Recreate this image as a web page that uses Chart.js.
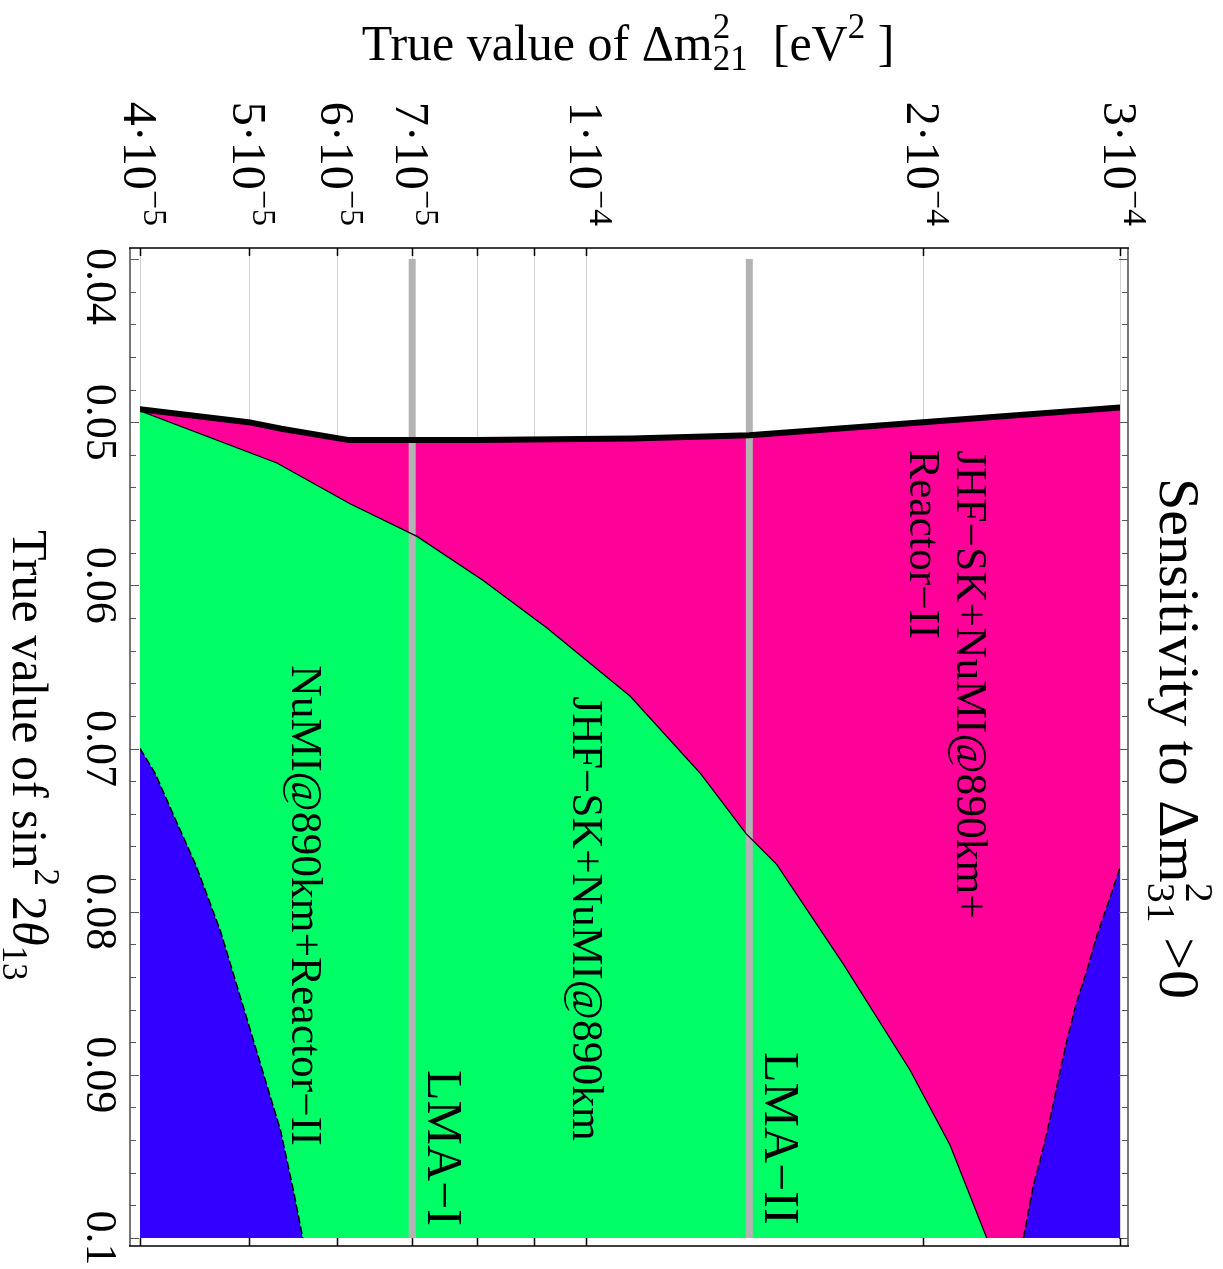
<!DOCTYPE html>
<html>
<head>
<meta charset="utf-8">
<script src="https://cdn.jsdelivr.net/npm/chart.js@4.4.1/dist/chart.umd.min.js"></script>
<style>
  html, body { margin: 0; padding: 0; background: #fff; }
  canvas { display: block; }
</style>
</head>
<body>
<canvas id="sensitivity-chart" width="1223" height="1269"></canvas>
<script>
// Axis ticks
var dm21Ticks = [4e-5, 5e-5, 6e-5, 7e-5, 1e-4, 2e-4, 3e-4];
var dm21TickMantissa = ['4', '5', '6', '7', '1', '2', '3'];
var dm21TickExponent = ['\u22125', '\u22125', '\u22125', '\u22125', '\u22124', '\u22124', '\u22124'];
var dm21Grid = [4e-5, 5e-5, 6e-5, 7e-5, 8e-5, 9e-5, 1e-4, 2e-4, 3e-4];
var s13Ticks = [0.04, 0.05, 0.06, 0.07, 0.08, 0.09, 0.1];
var s13TickLabels = ['0.04', '0.05', '0.06', '0.07', '0.08', '0.09', '0.1'];

// Upper edge of the sensitive region (thick black line)
var dm21Black = [4.0e-5, 5.0e-5, 5.35e-5, 6.15e-5, 8.0e-5, 1.1e-4, 1.4e-4, 2.0e-4, 3.0e-4];
var s13Black = [0.0492, 0.0500, 0.0504, 0.0511, 0.0511, 0.0510, 0.0508, 0.0500, 0.0491];

// JHF-SK+NuMI@890km boundary (green / magenta)
var dm21Green = [4.0e-5, 5.3e-5, 6.16e-5, 7.07e-5, 8.1e-5, 9.23e-5, 1.096e-4, 1.265e-4, 1.39e-4, 1.481e-4, 1.698e-4, 1.948e-4, 2.115e-4, 2.281e-4];
var s13Green = [0.0493, 0.0525, 0.0550, 0.0570, 0.0597, 0.0626, 0.0668, 0.0715, 0.0752, 0.0771, 0.0832, 0.0897, 0.0943, 0.1000];

// NuMI@890km+Reactor-II boundaries (blue)
var dm21BlueLeft = [4.0e-5, 4.125e-5, 4.28e-5, 4.49e-5, 4.72e-5, 4.96e-5, 5.19e-5, 5.34e-5, 5.48e-5, 5.59e-5];
var s13BlueLeft = [0.0700, 0.0715, 0.0740, 0.0772, 0.0812, 0.0861, 0.0906, 0.0934, 0.0970, 0.1000];
var dm21BlueRight = [2.46e-4, 2.51e-4, 2.56e-4, 2.61e-4, 2.65e-4, 2.69e-4, 2.74e-4, 2.80e-4, 2.86e-4, 2.93e-4, 3.0e-4];
var s13BlueRight = [0.1000, 0.0968, 0.0946, 0.0921, 0.0899, 0.0879, 0.0857, 0.0837, 0.0815, 0.0794, 0.0773];

// LMA solutions
var lmaDm21 = [7.0e-5, 1.4e-4];
var lmaLabels = ['LMA\u2212I', 'LMA\u2212II'];

// Region labels
var regionLabels = ['JHF\u2212SK+NuMI@890km+', 'Reactor\u2212II', 'JHF\u2212SK+NuMI@890km', 'NuMI@890km+Reactor\u2212II'];

(function() {
    'use strict';

    var SERIF = '"Liberation Serif", "Times New Roman", serif';

    // anchors of the rotated labels, in data units (baseline, start of text)
    var regionAnchors = [[2.146e-4, 0.0517], [1.948e-4, 0.0517], [9.74e-5, 0.0668], [5.47e-5, 0.0649]];
    var lmaLabelStart = [0.0897, 0.0886];

    function toPoints(xs, ys) {
        return xs.map(function(x, i) { return {x: x, y: ys[i]}; });
    }

    // rich text: pieces {t, s, up, stack, it}
    function richWidth(ctx, parts) {
        var w = 0;
        parts.forEach(function(p) {
            ctx.font = (p.it ? 'italic ' : '') + p.s + 'px ' + SERIF;
            if (!p.stack) w += ctx.measureText(p.t).width;
        });
        return w;
    }

    function drawRich(ctx, parts, x, y, rotated, align) {
        ctx.save();
        ctx.translate(x, y);
        if (rotated) ctx.rotate(Math.PI / 2);
        ctx.textAlign = 'left';
        ctx.textBaseline = 'alphabetic';
        ctx.fillStyle = '#000';
        var total = richWidth(ctx, parts);
        var pen = align === 'center' ? -total / 2 : (align === 'right' ? -total : 0);
        parts.forEach(function(p) {
            ctx.font = (p.it ? 'italic ' : '') + p.s + 'px ' + SERIF;
            ctx.fillText(p.t, pen, -(p.up || 0));
            if (!p.stack) pen += ctx.measureText(p.t).width;
        });
        ctx.restore();
        return total;
    }

    var framePlugin = {
        id: 'framePlugin',
        beforeDatasetsDraw: function(chart) {
            var ctx = chart.ctx, xs = chart.scales.x, a = chart.chartArea;
            ctx.save();
            ctx.strokeStyle = '#d2d2d2';
            ctx.lineWidth = 1;
            dm21Grid.forEach(function(v) {
                var px = Math.round(xs.getPixelForValue(v)) + 0.5;
                ctx.beginPath();
                ctx.moveTo(px, a.top - 11);
                ctx.lineTo(px, a.bottom + 8);
                ctx.stroke();
            });
            ctx.restore();
        },
        afterDraw: function(chart) {
            var ctx = chart.ctx, xs = chart.scales.x, ys = chart.scales.y, a = chart.chartArea;
            var fl = a.left - 10, fr = a.right + 8, ft = a.top - 11, fb = a.bottom + 8;

            ctx.save();
            // frame
            ctx.strokeStyle = '#777';
            ctx.lineWidth = 2;
            ctx.beginPath();
            ctx.moveTo(fl, ft); ctx.lineTo(fl, fb);
            ctx.moveTo(fr, ft); ctx.lineTo(fr, fb);
            ctx.stroke();
            ctx.strokeStyle = '#000';
            ctx.lineWidth = 1.5;
            ctx.beginPath();
            ctx.moveTo(fl - 1, ft); ctx.lineTo(fr + 1, ft);
            ctx.moveTo(fl - 1, fb); ctx.lineTo(fr + 1, fb);
            ctx.stroke();

            // sin^2 ticks on left and right
            ctx.strokeStyle = '#555';
            ctx.lineWidth = 1.2;
            for (var i = 0; i <= 30; i++) {
                var v = 0.04 + i * 0.002;
                var py = Math.round(ys.getPixelForValue(v)) + 0.5;
                var len = i % 5 === 0 ? 9 : 6;
                ctx.beginPath();
                ctx.moveTo(fl, py); ctx.lineTo(fl + len, py);
                ctx.moveTo(fr, py); ctx.lineTo(fr - len, py);
                ctx.stroke();
            }
            // dm21 ticks on top and bottom
            ctx.strokeStyle = '#000';
            ctx.lineWidth = 1.5;
            dm21Grid.forEach(function(v) {
                var px = Math.round(xs.getPixelForValue(v)) + 0.5;
                ctx.beginPath();
                ctx.moveTo(px, ft); ctx.lineTo(px, ft + 8);
                ctx.moveTo(px, fb); ctx.lineTo(px, fb - 8);
                ctx.stroke();
            });
            ctx.restore();

            // dm21 tick labels (rotated, right aligned towards the frame)
            dm21Ticks.forEach(function(v, i) {
                var px = xs.getPixelForValue(v);
                drawRich(ctx, [
                    {t: dm21TickMantissa[i] + '\u00b710', s: 48},
                    {t: dm21TickExponent[i], s: 34, up: 20}
                ], px - 16, ft - 22, true, 'right');
            });

            // sin^2 tick labels
            s13Ticks.forEach(function(v, i) {
                var py = ys.getPixelForValue(v);
                var parts = [{t: s13TickLabels[i], s: 44}];
                var w = richWidth(ctx, parts);
                var start = Math.max(ft, py - w / 2);
                drawRich(ctx, parts, 87, start, true, 'left');
            });

            // axis titles
            drawRich(ctx, [
                {t: 'True value of \u0394m', s: 50},
                {t: '2', s: 35, up: 22, stack: true},
                {t: '21', s: 35, up: -10},
                {t: '  [eV', s: 50},
                {t: '2', s: 35, up: 22},
                {t: ' ]', s: 50}
            ], 628, 60, false, 'center');

            drawRich(ctx, [
                {t: 'True value of sin', s: 50},
                {t: '2', s: 35, up: 22},
                {t: '\u20092', s: 50},
                {t: '\u03b8', s: 50, it: true},
                {t: '13', s: 35, up: -10}
            ], 13, 530, true, 'left');

            drawRich(ctx, [
                {t: 'Sensitivity to \u0394m', s: 58},
                {t: '2', s: 40, up: 26, stack: true},
                {t: '31', s: 40, up: -12},
                {t: ' >0', s: 58}
            ], 1160, 478, true, 'left');

            // region labels
            regionLabels.forEach(function(txt, i) {
                var anc = regionAnchors[i];
                drawRich(ctx, [{t: txt, s: 43.5}], xs.getPixelForValue(anc[0]), ys.getPixelForValue(anc[1]), true, 'left');
            });

            // LMA labels
            lmaLabels.forEach(function(txt, i) {
                drawRich(ctx, [{t: txt, s: 50}], xs.getPixelForValue(lmaDm21[i]) + 16, ys.getPixelForValue(lmaLabelStart[i]), true, 'left');
            });
        }
    };

    var fillTo = {value: 0.1};

    var ctx = document.getElementById('sensitivity-chart');
    new Chart(ctx, {
        type: 'line',
        data: {
            datasets: [{
                // magenta region
                data: toPoints(dm21Black, s13Black),
                backgroundColor: '#ff0099',
                borderWidth: 0,
                fill: fillTo,
                order: 10
            }, {
                // green region
                data: toPoints(dm21Green, s13Green),
                backgroundColor: '#00ff66',
                borderWidth: 0,
                fill: fillTo,
                order: 9
            }, {
                // blue regions
                data: toPoints(dm21BlueLeft, s13BlueLeft),
                backgroundColor: '#3300ff',
                borderWidth: 0,
                fill: fillTo,
                order: 8
            }, {
                data: toPoints(dm21BlueRight, s13BlueRight),
                backgroundColor: '#3300ff',
                borderWidth: 0,
                fill: fillTo,
                order: 8
            }, {
                // LMA-I and LMA-II
                data: [{x: lmaDm21[0], y: 0.04}, {x: lmaDm21[0], y: 0.1}],
                borderColor: '#b3b3b3',
                borderWidth: 7,
                borderCapStyle: 'round',
                fill: false,
                order: 5
            }, {
                data: [{x: lmaDm21[1], y: 0.04}, {x: lmaDm21[1], y: 0.1}],
                borderColor: '#b3b3b3',
                borderWidth: 7,
                borderCapStyle: 'round',
                fill: false,
                order: 5
            }, {
                // boundaries
                data: toPoints(dm21Green, s13Green),
                borderColor: '#000',
                borderWidth: 1.2,
                fill: false,
                order: 3
            }, {
                data: toPoints(dm21BlueLeft, s13BlueLeft),
                borderColor: '#000',
                borderWidth: 1.5,
                borderDash: [8, 3],
                fill: false,
                order: 3
            }, {
                data: toPoints(dm21BlueRight, s13BlueRight),
                borderColor: '#000',
                borderWidth: 1.5,
                borderDash: [8, 3],
                fill: false,
                order: 3
            }, {
                data: toPoints(dm21Black, s13Black),
                borderColor: '#000',
                borderWidth: 6,
                borderCapStyle: 'round',
                borderJoinStyle: 'round',
                fill: false,
                order: 1
            }]
        },
        options: {
            responsive: false,
            devicePixelRatio: 1,
            animation: false,
            layout: {
                padding: {left: 140, right: 103, top: 259, bottom: 31}
            },
            elements: {
                point: {radius: 0, hoverRadius: 0},
                line: {tension: 0}
            },
            plugins: {
                legend: {display: false},
                tooltip: {enabled: false},
                title: {display: false}
            },
            scales: {
                x: {type: 'logarithmic', min: 4e-5, max: 3e-4, display: false},
                y: {type: 'linear', min: 0.04, max: 0.1, reverse: true, display: false}
            }
        },
        plugins: [framePlugin]
    });
})();
</script>
</body>
</html>
